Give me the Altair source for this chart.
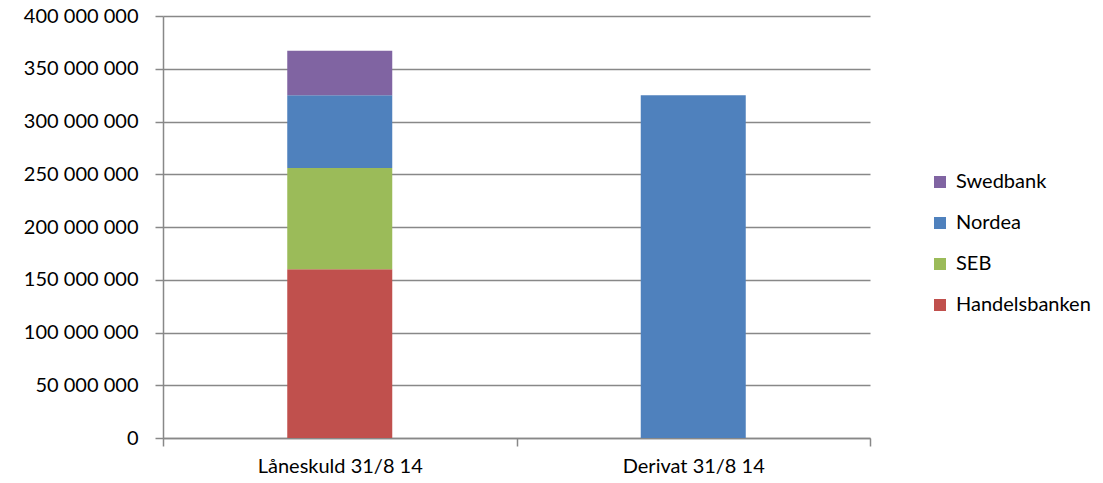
import altair as alt
import pandas as pd

categories = ["Låneskuld 31/8 14", "Låneskuld 31/8 14", "Låneskuld 31/8 14", "Låneskuld 31/8 14", "Derivat 31/8 14"]
banks = ["Handelsbanken", "SEB", "Nordea", "Swedbank", "Nordea"]
values = [160000000, 96000000, 69000000, 42000000, 325000000]
stack_rank = [0, 1, 2, 3, 2]

legend_order = ["Swedbank", "Nordea", "SEB", "Handelsbanken"]
legend_colors = ["#8064A2", "#4F81BD", "#9BBB59", "#C0504D"]
x_order = ["Låneskuld 31/8 14", "Derivat 31/8 14"]

df = pd.DataFrame({"cat": categories, "bank": banks, "value": values, "rank": stack_rank})

FONT = "Lato"
FS = 20

chart = alt.Chart(df).mark_bar(size=105).encode(
    x=alt.X("cat:N", sort=x_order, title=None,
            scale=alt.Scale(paddingInner=0, paddingOuter=0),
            axis=alt.Axis(labelAngle=0, tickBand="extent", tickSize=8, labelPadding=10,
                          domainColor="#888888", domainWidth=1.5, tickColor="#888888", tickWidth=1.5,
                          labelFont=FONT, labelFontSize=FS, labelColor="#000000", grid=False)),
    y=alt.Y("value:Q", stack="zero", title=None,
            scale=alt.Scale(domain=[0, 400000000], nice=False),
            axis=alt.Axis(values=list(range(0, 400000001, 50000000)),
                          labelExpr="replace(format(datum.value, ','), regexp(',', 'g'), ' ')",
                          tickSize=8, labelPadding=17, domainColor="#888888", domainWidth=1.5,
                          tickColor="#888888", tickWidth=1.5, gridColor="#888888", gridWidth=1.5,
                          labelFont=FONT, labelFontSize=FS, labelColor="#000000")),
    color=alt.Color("bank:N", title=None,
                    scale=alt.Scale(domain=legend_order, range=legend_colors),
                    legend=alt.Legend(orient="none", legendX=767, legendY=156, symbolType="square",
                                      symbolSize=144, symbolStrokeWidth=0, labelFont=FONT, labelFontSize=FS,
                                      labelColor="#000000", rowPadding=21, labelOffset=6, padding=0)),
    order=alt.Order("rank:Q", sort="ascending"),
).properties(
    width=707, height=422,
    autosize=alt.AutoSizeParams(type="none"),
    padding={"left": 155, "top": 8, "right": 225, "bottom": 45},
).configure_view(stroke=None)

chart.save("out.html", embed_options={"renderer": "svg", "actions": False})
